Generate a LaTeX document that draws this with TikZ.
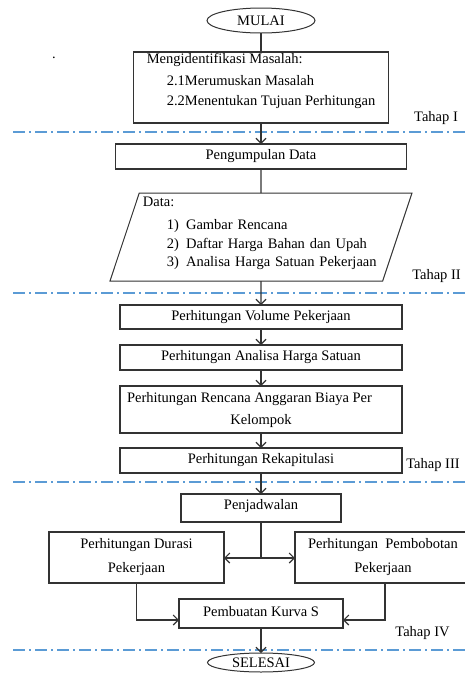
\documentclass[tikz,border=0pt]{standalone}
\usepackage{fontspec}
\setmainfont{Liberation Serif}
\usepackage{tikz}
\usetikzlibrary{shapes.geometric,arrows.meta,positioning,calc}
\definecolor{cline}{HTML}{333333}
\definecolor{cdash}{HTML}{5B9BD5}

\begin{document}
\begin{tikzpicture}[x=1pt,y=-1pt,
  font=\fontsize{14.5}{18}\selectfont,
  term/.style={ellipse,draw=cline,line width=1pt,inner sep=0pt,outer sep=0pt},
  proc/.style={rectangle,draw=cline,line width=1.1pt,minimum width=282pt,minimum height=25pt,inner sep=0pt,outer sep=0pt},
  io/.style={trapezium,trapezium left angle=70,trapezium right angle=110,trapezium stretches body,draw=cline,line width=1pt,inner sep=0pt,outer sep=0pt},
  tahap/.style={inner sep=0pt},
  lin/.style={line width=1.1pt,cline},
  arr/.style={-{Straight Barb[length=5pt,width=10pt]},line width=1.1pt,cline},
  sep/.style={cdash,line width=1.1pt,dash pattern=on 12pt off 4pt on 2pt off 4pt}]
  \useasboundingbox (0,0) rectangle (465,673);

  % garis pemisah tahap
  \foreach \y in {132,293,482,650}
    \draw[sep] (13,\y) -- (465,\y);

  % tahap I
  \node[term,minimum width=108pt,minimum height=25pt] (mulai) at (261,20.5) {MULAI};
  \node (titik) at (54,58) {.};
  \node[proc,minimum width=255pt,minimum height=71pt,align=left] (ident) at (261,87.5)
    {Mengidentifikasi Masalah:\\[4pt]
     \hspace*{20pt}2.1Merumuskan Masalah\\[2pt]
     \hspace*{20pt}2.2Menentukan Tujuan Perhitungan\\[-2pt]\mbox{}};

  % tahap II
  \node[proc,below=21pt of ident,minimum width=291pt] (kumpul) {Pengumpulan Data};
  \node[io,below=24pt of kumpul,minimum width=302pt,minimum height=88pt,text width=236pt,align=left] (data)
    {Data:\\[5pt]
     \hspace*{24pt}1)\hspace{7pt}Gambar Rencana\\[1pt]
     \hspace*{24pt}2)\hspace{7pt}Daftar Harga Bahan dan Upah\\
     \hspace*{24pt}3)\hspace{7pt}Analisa Harga Satuan Pekerjaan\\[-7pt]\mbox{}};

  % tahap III
  \node[proc,below=24pt of data,minimum height=24pt] (volume) {Perhitungan Volume Pekerjaan};
  \node[proc,below=16pt of volume] (analisa) {Perhitungan Analisa Harga Satuan};
  \node[proc,below=16pt of analisa,minimum height=47pt,align=center] (rab)
    {Perhitungan Rencana Anggaran Biaya Per\hspace*{23pt}\\[4pt]Kelompok};
  \node[proc,below=15pt of rab] (rekap) {Perhitungan Rekapitulasi};

  % tahap IV
  \node[proc,below=21pt of rekap,minimum width=160pt,minimum height=28pt,text depth=8pt] (jadwal) {Penjadwalan};
  \node[proc,minimum width=175pt,minimum height=51pt,align=center] (durasi) at (136.5,557.5)
    {Perhitungan Durasi\\[6pt]Pekerjaan};
  \node[proc,minimum width=176pt,minimum height=51pt,align=center] (bobot) at (383,557.5)
    {Perhitungan\ \ Pembobotan\\[6pt]Pekerjaan};
  \node[proc,minimum width=164pt,minimum height=29pt,text depth=5pt] (kurva) at (261,613.5) {Pembuatan Kurva S};
  \node[term,below=25pt of kurva,minimum width=107pt,minimum height=19pt] (selesai) {SELESAI};

  % label tahap
  \node[tahap] (t1) at (436,118) {Tahap I};
  \node[tahap] (t2) at (436.5,276) {Tahap II};
  \node[tahap] (t3) at (433,465) {Tahap III};
  \node[tahap] (t4) at (422.5,633) {Tahap IV};

  % alur
  \draw[lin] (mulai) -- (ident);
  \draw[arr] (ident) -- (kumpul);
  \draw[lin] (kumpul) -- (data);
  \draw[arr] (data) -- (volume);
  \draw[arr] (volume) -- (analisa);
  \draw[arr] (analisa) -- (rab);
  \draw[arr] (rab) -- (rekap);
  \draw[arr] (rekap) -- (jadwal);
  \coordinate (cabang) at ($(jadwal.south)+(0,36)$);
  \draw[lin] (jadwal) -- (cabang);
  \draw[arr] (cabang) -- (cabang -| durasi.east);
  \draw[arr] (cabang) -- (cabang -| bobot.west);
  \draw[arr] (durasi.south) |- ($(kurva.west)+(0,6.5)$);
  \draw[arr] ($(bobot.south)+(2,0)$) |- ($(kurva.east)+(0,6.5)$);
  \draw[arr] (kurva) -- (selesai);
\end{tikzpicture}
\end{document}
